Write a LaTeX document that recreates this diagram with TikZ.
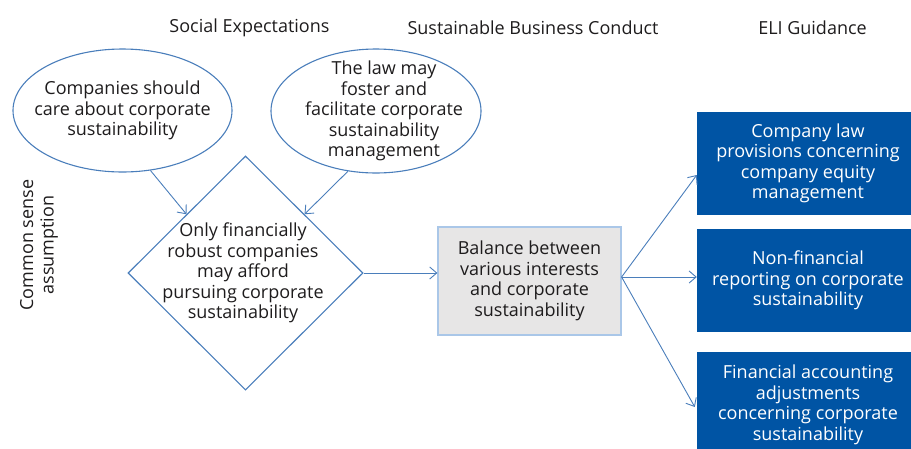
\documentclass[tikz,border=0pt]{standalone}
\usepackage{fontspec}
\setmainfont{Open Sans}
\usetikzlibrary{positioning}
\usetikzlibrary{shapes.geometric}
\usetikzlibrary{arrows.meta}
\usetikzlibrary{calc}
\usepackage{xcolor}

\definecolor{lineblue}{RGB}{74,126,187}
\definecolor{boxblue}{RGB}{0,84,164}
\definecolor{boxgray}{RGB}{231,230,230}
\definecolor{edgeblue}{RGB}{170,199,232}
\definecolor{txtgray}{RGB}{30,28,29}

\tikzset{
  txt/.style={align=center, text=txtgray, inner sep=0pt,
    font=\fontsize{18}{20.5}\selectfont},
  head/.style={txt, font=\fontsize{18}{20}\selectfont},
  bubble/.style={ellipse, draw=lineblue, line width=1.1pt, inner sep=0pt},
  rhomb/.style={diamond, draw=lineblue, line width=1.1pt, inner sep=0pt},
  conn/.style={draw=lineblue, line width=0.9pt,
    -{Straight Barb[length=7pt,width=12pt]}},
  guide/.style={fill=boxblue, inner sep=0pt, minimum width=222pt,
    align=center, text=white, font=\fontsize{18}{20.5}\selectfont},
}

\begin{document}
\begin{tikzpicture}[x=1pt,y=-1pt]
\clip (0,0) rectangle (911,448);

%headers
\node[head] (hSoc) at (249.5,28) {Social Expectations};
\node[head] (hSus) at (533,28) {Sustainable Business Conduct};
\node[head] (hEli) at (812.5,28) {ELI Guidance};

\node[txt, rotate=90] (common) at (39,245) {Common sense\\assumption};

%expectations
\node[bubble, minimum width=219pt, minimum height=123pt] (eCare) at (122.5,110.5) {};
\node[txt] (tCare) at (eCare) {Companies should\\care about corporate\\sustainability};

\node[bubble, minimum width=210pt, minimum height=124pt] (eLaw) at (376,111) {};
\node[txt, xshift=8pt] (tLaw) at (eLaw) {The law may\\foster and\\facilitate corporate\\sustainability\\management};

\node[rhomb, minimum width=235pt, minimum height=234pt] (dia) at (245.5,273) {};
\node[txt, xshift=-2.5pt] (tDia) at (dia) {Only financially\\robust companies\\may afford\\pursuing corporate\\sustainability};

%business conduct
\node[txt, fill=boxgray, draw=edgeblue, line width=1.2pt,
  minimum width=183pt, minimum height=108pt] (bal) at (529.5,281)
  {Balance between\\various interests\\and corporate\\sustainability};

%guidance
\node[guide, minimum height=103pt] (g1) at (808,163.5)
  {Company law\\provisions concerning\\company equity\\management};
\node[guide, minimum height=103pt] (g2) at (808,280.5)
  {Non-financial\\reporting on corporate\\sustainability};
\node[guide, minimum height=106pt] (g3) at (808,405)
  {Financial accounting\\adjustments\\concerning corporate\\sustainability};

%arrows
\draw[conn] (eCare.-65) -- (dia.north west);
\draw[conn] (eLaw.-115) -- (dia.north east);
\draw[conn] (dia.east) -- (dia.east -| bal.west);

\coordinate (fan) at ($(bal.east)+(0,-4)$);
\draw[conn] (fan) -- ($(g1.west)+(0,11.5)$);
\draw[conn] (fan) -- ($(g2.west)+(0,-3.5)$);
\draw[conn] (fan) -- ($(g3.west)+(-2,2)$);

\end{tikzpicture}
\end{document}
